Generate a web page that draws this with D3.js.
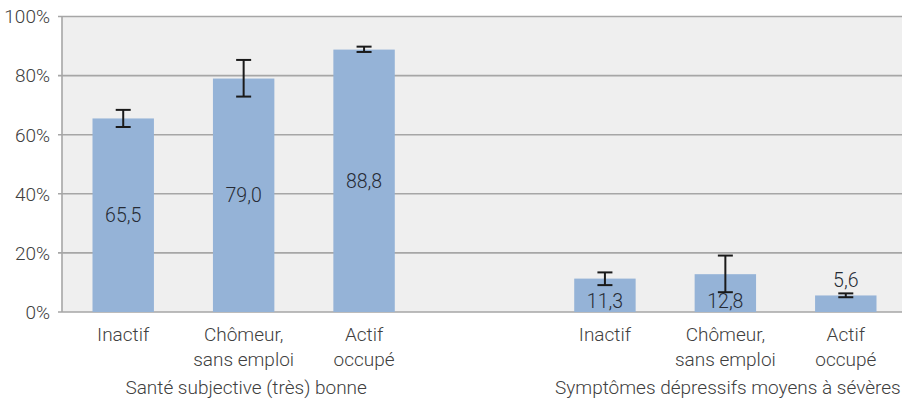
<!DOCTYPE html>
<html>
<head>
<meta charset="utf-8">
<script src="https://cdn.jsdelivr.net/npm/d3@7"></script>
<style>
  body { margin: 0; background: #fff; }
  svg { display: block; font-family: Roboto, "Noto Sans", sans-serif; font-weight: 300; }
</style>
</head>
<body>
<script>
// data
var groups = ["Santé subjective (très) bonne", "Symptômes dépressifs moyens à sévères"];
var statuses = [["Inactif"], ["Chômeur,", "sans emploi"], ["Actif", "occupé"]];
var santeValues = [65.5, 79.0, 88.8];
var santeLow = [62.6, 72.9, 88.0];
var santeHigh = [68.4, 85.3, 89.8];
var depValues = [11.3, 12.8, 5.6];
var depLow = [9.1, 6.7, 5.0];
var depHigh = [13.4, 19.1, 6.3];
var yTicks = [0, 20, 40, 60, 80, 100];

var width = 902, height = 402;
var plotLeft = 62, plotTop = 16.5, plotBottom = 312;

// one slot per bar, empty slot between the two groups
var bars = [];
[[santeValues, santeLow, santeHigh], [depValues, depLow, depHigh]].forEach(function(g, gi) {
  g[0].forEach(function(v, i) {
    bars.push({ key: gi + "-" + i, group: gi, idx: i, value: v, low: g[1][i], high: g[2][i] });
  });
});
var slots = ["0-0", "0-1", "0-2", "gap", "1-0", "1-1", "1-2"];

var svg = d3.select("body").append("svg")
  .attr("width", width)
  .attr("height", height);

var x = d3.scaleBand().domain(slots).range([63, 906]).paddingInner(0.49).paddingOuter(0.245);
var y = d3.scaleLinear().domain([0, 100]).range([plotBottom, plotTop]);

// plot background
svg.append("rect")
  .attr("x", plotLeft).attr("y", plotTop)
  .attr("width", width - plotLeft).attr("height", plotBottom - plotTop)
  .attr("fill", "#efefef");

// gridlines + ticks
svg.append("g").selectAll("line")
  .data(yTicks)
  .enter().append("line")
  .attr("x1", plotLeft - 4).attr("x2", width)
  .attr("y1", function(d) { return y(d); })
  .attr("y2", function(d) { return y(d); })
  .attr("stroke", "#a6a6a6")
  .attr("stroke-width", 1.6);

svg.append("line")
  .attr("x1", plotLeft).attr("x2", plotLeft)
  .attr("y1", plotTop).attr("y2", plotBottom)
  .attr("stroke", "#a6a6a6")
  .attr("stroke-width", 1.6);

svg.append("g").selectAll("text")
  .data(yTicks)
  .enter().append("text")
  .attr("x", 50)
  .attr("y", function(d) { return y(d); })
  .attr("dy", "0.36em")
  .attr("text-anchor", "end")
  .attr("font-size", "19px")
  .attr("fill", "#404040")
  .text(function(d) { return d + "%"; });

// bars
svg.append("g").selectAll("rect")
  .data(bars)
  .enter().append("rect")
  .attr("x", function(d) { return x(d.key); })
  .attr("width", x.bandwidth())
  .attr("y", function(d) { return y(d.value); })
  .attr("height", function(d) { return y(0) - y(d.value); })
  .attr("fill", "#95b3d7");

// error bars
var err = svg.append("g").attr("stroke", "#1a1a1a").attr("stroke-width", 2);
bars.forEach(function(d) {
  var cx = x(d.key) + x.bandwidth() / 2;
  err.append("line").attr("x1", cx).attr("x2", cx).attr("y1", y(d.high)).attr("y2", y(d.low));
  err.append("line").attr("x1", cx - 7.5).attr("x2", cx + 7.5).attr("y1", y(d.high)).attr("y2", y(d.high));
  err.append("line").attr("x1", cx - 7.5).attr("x2", cx + 7.5).attr("y1", y(d.low)).attr("y2", y(d.low));
});

// value labels: centred in tall bars, at the base of short ones, above the tiny one
var fmt = function(v) { return v.toFixed(1).replace(".", ","); };
svg.append("g").selectAll("text")
  .data(bars)
  .enter().append("text")
  .attr("x", function(d) { return x(d.key) + x.bandwidth() / 2; })
  .attr("y", function(d) {
    var h = y(0) - y(d.value);
    if (h > 100) return (y(d.value) + y(0)) / 2 + 6.8;
    if (h > 24) return y(0) - 4;
    return y(d.high) - 6.5;
  })
  .attr("text-anchor", "middle")
  .attr("font-size", "19.5px")
  .attr("fill", "#262b35")
  .text(function(d) { return fmt(d.value); });

// category labels
var cat = svg.append("g").attr("font-size", "19px").attr("fill", "#404040").attr("text-anchor", "middle");
bars.forEach(function(d) {
  var cx = x(d.key) + x.bandwidth() / 2;
  statuses[d.idx].forEach(function(line, li) {
    cat.append("text").attr("x", cx).attr("y", 341 + li * 25).text(line);
  });
});

// group labels under the middle bar of each group
svg.append("g").selectAll("text")
  .data(groups)
  .enter().append("text")
  .attr("x", function(d, i) { return x(i + "-1") + x.bandwidth() / 2 + 2.5; })
  .attr("y", 394)
  .attr("text-anchor", "middle")
  .attr("font-size", "19px")
  .attr("fill", "#404040")
  .text(function(d) { return d; });
</script>
</body>
</html>
